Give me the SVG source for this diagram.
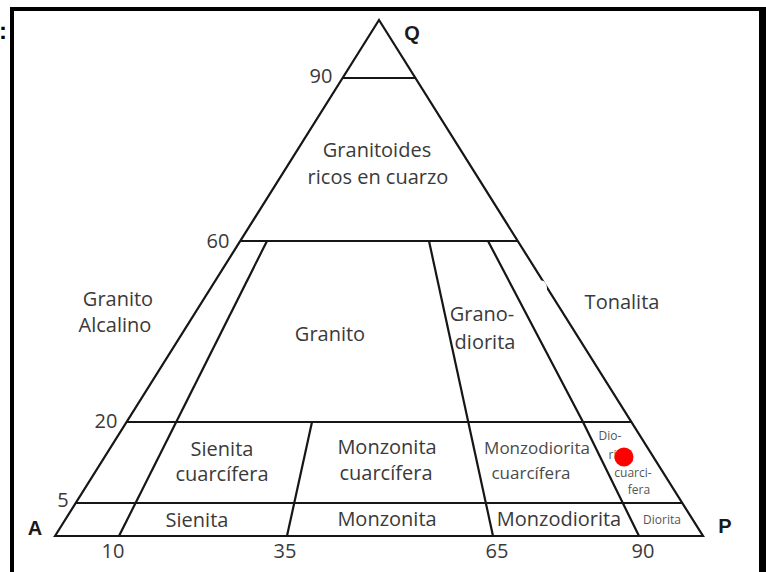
<svg xmlns="http://www.w3.org/2000/svg" width="766" height="572" viewBox="0 0 766 572">
<style>
.ln{fill:none;stroke:#161616;stroke-width:2.2;stroke-linejoin:miter}
.t{font-family:"Open Sans","DejaVu Sans",sans-serif;font-size:20px;fill:#3a3a3a;text-anchor:middle}
.s{font-size:17px;fill:#4a4a4a}
.xs{font-size:12px;fill:#555}
.v{font-family:"Liberation Sans",Arial,sans-serif;font-weight:bold;font-size:20px;fill:#1a1a1a;text-anchor:middle}
</style>
<rect width="766" height="572" fill="#fff"/>
<g id="frame" fill="#000">
<rect x="10" y="7" width="4" height="565"/>
<rect x="10" y="7" width="756" height="4"/>
<rect x="759" y="7" width="7" height="565"/>
<text x="-1" y="39" font-family="Liberation Sans,Arial,sans-serif" font-weight="bold" font-size="24">:</text>
</g>
<g id="connectors">
<polygon class="ln" points="55,536 379,20 703,536"/>
<line class="ln" x1="342.6" y1="78" x2="415.4" y2="78"/>
<line class="ln" x1="240.2" y1="241" x2="517.8" y2="241"/>
<line class="ln" x1="126.6" y1="422" x2="631.4" y2="422"/>
<line class="ln" x1="75.7" y1="503" x2="682.3" y2="503"/>
<line class="ln" x1="119" y1="536" x2="267" y2="241"/>
<line class="ln" x1="287" y1="536" x2="312" y2="422"/>
<line class="ln" x1="493" y1="536" x2="429" y2="241"/>
<polyline class="ln" points="639,536 583,422 488,241"/>
<ellipse cx="541.5" cy="288" rx="5.5" ry="7.5" fill="#fff"/>
</g>
<g id="vertices">
<text class="v" x="412" y="40">Q</text>
<text class="v" x="35" y="535">A</text>
<text class="v" x="725" y="533">P</text>
</g>
<g id="ticks">
<text class="t" x="321" y="83">90</text>
<text class="t" x="218" y="248">60</text>
<text class="t" x="106" y="428">20</text>
<text class="t" x="63" y="507">5</text>
<text class="t" x="113" y="558">10</text>
<text class="t" x="285" y="558">35</text>
<text class="t" x="497" y="558">65</text>
<text class="t" x="643" y="558">90</text>
</g>
<g id="granitoides-ricos"><text class="t" x="377" y="157">Granitoides</text><text class="t" x="378" y="184">ricos en cuarzo</text></g>
<g id="granito-alcalino"><text class="t" x="118" y="306">Granito</text><text class="t" x="115" y="332">Alcalino</text></g>
<g id="granito"><text class="t" x="330" y="341">Granito</text></g>
<g id="granodiorita"><text class="t" x="482" y="321">Grano-</text><text class="t" x="485" y="349">diorita</text></g>
<g id="tonalita"><text class="t" x="622" y="309">Tonalita</text></g>
<g id="sienita-cuarcifera"><text class="t" x="222" y="456">Sienita</text><text class="t" x="222" y="481">cuarcífera</text></g>
<g id="monzonita-cuarcifera"><text class="t" x="387" y="454">Monzonita</text><text class="t" x="386" y="480">cuarcífera</text></g>
<g id="monzodiorita-cuarcifera"><text class="t s" x="537" y="454">Monzodiorita</text><text class="t s" x="531" y="479">cuarcífera</text></g>
<g id="diorita-cuarcifera">
<text class="t xs" x="610" y="440">Dio-</text>
<text class="t xs" x="618" y="459">rita</text>
<text class="t xs" x="633" y="477">cuarci-</text>
<text class="t xs" x="639" y="494">fera</text>
<circle cx="624" cy="457" r="9.5" fill="#ff0000"/>
</g>
<g id="sienita"><text class="t" x="197" y="527">Sienita</text></g>
<g id="monzonita"><text class="t" x="387" y="526">Monzonita</text></g>
<g id="monzodiorita"><text class="t" x="559" y="526">Monzodiorita</text></g>
<g id="diorita"><text class="t xs" x="662" y="524">Diorita</text></g>
</svg>
